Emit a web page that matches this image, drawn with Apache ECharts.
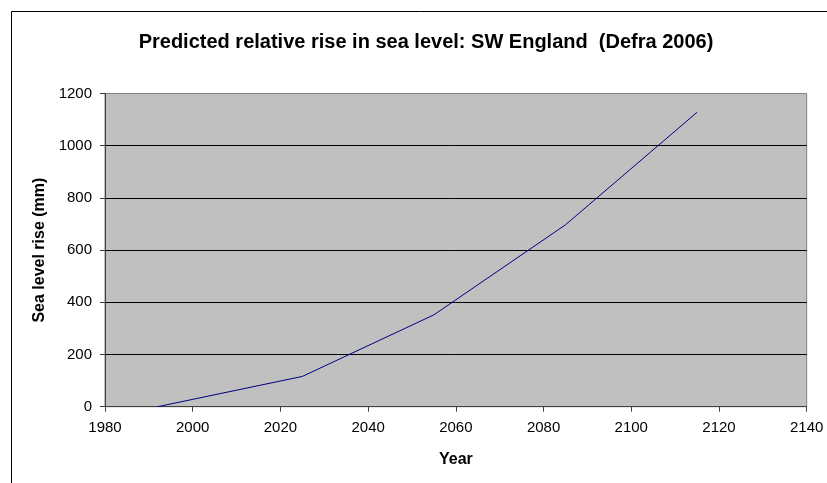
<!DOCTYPE html>
<html>
<head>
<meta charset="utf-8">
<script src="https://cdn.jsdelivr.net/npm/echarts@6/dist/echarts.min.js"></script>
<style>
html,body{margin:0;padding:0;background:#fff;}
#chart{width:827px;height:483px;}
</style>
</head>
<body>
<div id="chart"></div>
<script>
var chartTitle = 'Predicted relative rise in sea level: SW England  (Defra 2006)';
var xAxisTitle = 'Year';
var yAxisTitle = 'Sea level rise (mm)';
var years = [1992, 2025, 2055, 2085, 2115];
var seaLevelRise = [0, 116, 352, 697, 1128];
var xTicks = [1980, 2000, 2020, 2040, 2060, 2080, 2100, 2120, 2140];
var yTicks = [0, 200, 400, 600, 800, 1000, 1200];

var FONT = '"Liberation Sans", Arial, sans-serif';
var chart = echarts.init(document.getElementById('chart'), null, {renderer: 'canvas'});
var points = years.map(function (y, i) { return [y, seaLevelRise[i]]; });

chart.setOption({
  animation: false,
  backgroundColor: '#ffffff',
  graphic: [
    {
      type: 'rect', z: 100, silent: true,
      shape: {x: 11.5, y: 11.5, width: 900, height: 600},
      style: {fill: 'none', stroke: '#000', lineWidth: 1}
    },
    {
      type: 'text', z: 100, x: 426, y: 42,
      style: {
        text: chartTitle, fontFamily: FONT, fontSize: 20, fontWeight: 'bold',
        fill: '#000', align: 'center', verticalAlign: 'middle'
      }
    }
  ],
  grid: {
    left: 105, right: 20.3, top: 93.5, bottom: 76.3,
    show: true, backgroundColor: '#C0C0C0', borderColor: '#808080', borderWidth: 1
  },
  xAxis: {
    type: 'value',
    min: xTicks[0], max: xTicks[xTicks.length - 1], interval: xTicks[1] - xTicks[0],
    name: xAxisTitle, nameLocation: 'middle', nameGap: 45,
    nameTextStyle: {fontFamily: FONT, fontSize: 16, fontWeight: 'bold', color: '#000'},
    axisLine: {show: true, lineStyle: {color: '#404040', width: 1}},
    axisTick: {show: true, inside: false, length: 5, lineStyle: {color: '#404040'}},
    axisLabel: {fontFamily: FONT, fontSize: 15, color: '#000', margin: 14,
      formatter: function (v) { return String(v); }},
    splitLine: {show: false}
  },
  yAxis: {
    type: 'value',
    min: yTicks[0], max: yTicks[yTicks.length - 1], interval: yTicks[1] - yTicks[0],
    name: yAxisTitle, nameLocation: 'middle', nameGap: 54, nameRotate: 90,
    nameTextStyle: {fontFamily: FONT, fontSize: 16, fontWeight: 'bold', color: '#000'},
    axisLine: {show: true, lineStyle: {color: '#404040', width: 1}},
    axisTick: {show: true, inside: false, length: 5, lineStyle: {color: '#404040'}},
    axisLabel: {fontFamily: FONT, fontSize: 15, color: '#000', margin: 13,
      formatter: function (v) { return String(v); }},
    splitLine: {show: true, showMinLine: false, showMaxLine: false, lineStyle: {color: '#000', width: 1}}
  },
  series: [{
    type: 'line',
    data: points,
    showSymbol: false,
    symbol: 'none',
    lineStyle: {color: '#000080', width: 1},
    itemStyle: {color: '#000080'}
  }]
});
</script>
</body>
</html>
